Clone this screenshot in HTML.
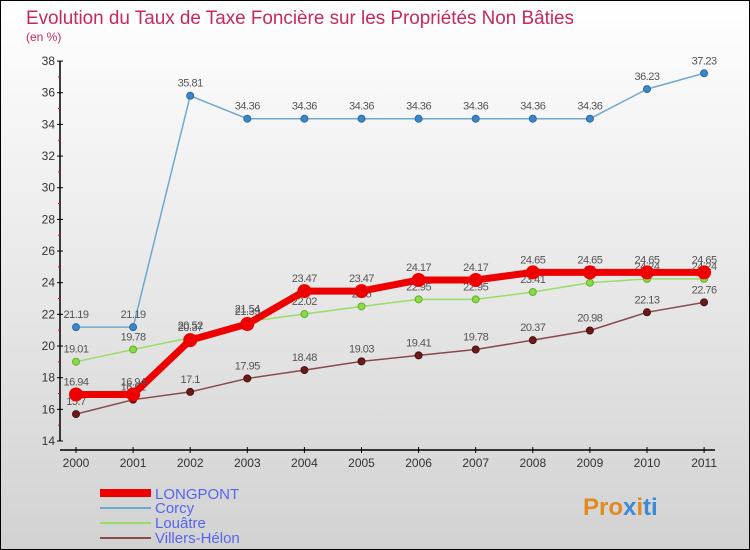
<!DOCTYPE html>
<html><head><meta charset="utf-8"><style>
body{margin:0}
#c{width:750px;height:550px;position:relative;overflow:hidden}
svg text{font-family:"Liberation Sans",sans-serif}
</style></head><body>
<div id="c">
<svg id="s" width="750" height="550" xmlns="http://www.w3.org/2000/svg">
<defs><linearGradient id="bg" x1="0" y1="0" x2="0" y2="1"><stop offset="0" stop-color="#ffffff"/><stop offset="1" stop-color="#d2d2d2"/></linearGradient></defs>
<rect x="0.5" y="0.5" width="749" height="549" fill="url(#bg)" stroke="#000"/>
<text x="26" y="24" font-size="19" fill="#c8285a" textLength="548" lengthAdjust="spacingAndGlyphs">Evolution du Taux de Taxe Foncière sur les Propriétés Non Bâties</text>
<text x="26" y="41" font-size="12" fill="#c8285a">(en %)</text>
<g id="axes"></g><g id="series"></g>
<g>
<rect x="100" y="489" width="51" height="8" fill="#e00"/>
<text x="155" y="499" font-size="15" fill="#5566ee">LONGPONT</text>
<line x1="100" y1="508" x2="151" y2="508" stroke="#6fa8d0" stroke-width="2"/>
<text x="155" y="513" font-size="15" fill="#5566ee">Corcy</text>
<line x1="100" y1="523" x2="151" y2="523" stroke="#99dd66" stroke-width="2"/>
<text x="155" y="528" font-size="15" fill="#5566ee">Louâtre</text>
<line x1="100" y1="538" x2="151" y2="538" stroke="#8a4a4a" stroke-width="2"/>
<text x="155" y="543" font-size="15" fill="#5566ee">Villers-Hélon</text>
</g>
<text x="583" y="515" font-size="24" font-weight="bold" fill="#e08a20">Pro<tspan fill="#3a8ad8">x</tspan><tspan fill="#e08a20">i</tspan><tspan fill="#3a8ad8">ti</tspan></text>
</svg></div>
<script>
const years=["2000","2001","2002","2003","2004","2005","2006","2007","2008","2009","2010","2011"];
const yTicks=[14,16,18,20,22,24,26,28,30,32,34,36,38];
const longpont=[16.94,16.94,20.37,21.39,23.47,23.47,24.17,24.17,24.65,24.65,24.65,24.65];
const corcy=[21.19,21.19,35.81,34.36,34.36,34.36,34.36,34.36,34.36,34.36,36.23,37.23];
const louatre=[19.01,19.78,20.52,21.54,22.02,22.5,22.95,22.95,23.41,24.0,24.24,24.24];
const villers=[15.7,16.61,17.1,17.95,18.48,19.03,19.41,19.78,20.37,20.98,22.13,22.76];
const NS="http://www.w3.org/2000/svg";
const X=i=>76+i*57.1, Y=v=>441-(v-14)*15.83;
function mk(t,a,p){const e=document.createElementNS(NS,t);for(const k in a)e.setAttribute(k,a[k]);p.appendChild(e);return e;}
const ax=document.getElementById('axes');
let l=mk('line',{x1:60,y1:Y(38),x2:60,y2:441,stroke:'#000','stroke-width':1.5},ax);


l=mk('line',{x1:60,y1:450,x2:715,y2:450,stroke:'#000','stroke-width':1.5},ax);


yTicks.forEach(v=>{
 mk('line',{x1:57,y1:Y(v),x2:63,y2:Y(v),stroke:'#000'},ax);
 if(v<38)mk('line',{x1:58,y1:Y(v+1),x2:61,y2:Y(v+1),stroke:'#e00'},ax);
 const t=mk('text',{x:55,y:Y(v)+4,'font-size':12,fill:'#333','text-anchor':'end'},ax);t.textContent=v;
 
 
});
years.forEach((y,i)=>{
 mk('line',{x1:X(i),y1:447,x2:X(i),y2:453,stroke:'#000'},ax);
 const t=mk('text',{x:X(i),y:467,'font-size':12,fill:'#333','text-anchor':'middle'},ax);t.textContent=y;
 
 
});
const sg=document.getElementById('series');
function series(d,name,col,w,r,dot,stroke){
 const g=mk('g',{},sg);
 
 
 mk('polyline',{points:d.map((v,i)=>X(i)+','+Y(v)).join(' '),fill:'none',stroke:col,'stroke-width':w},g);
 d.forEach((v,i)=>{
  const c=mk('circle',{cx:X(i),cy:Y(v),r:r,fill:dot,stroke:stroke,'stroke-width':1},g);
  
  
  const t=mk('text',{x:X(i),y:Y(v)-9,'font-size':11,fill:'#555','text-anchor':'middle','letter-spacing':'-0.5'},g);
  t.textContent=String(v);
  
  
 });
}
series(corcy,'corcy','#6fa8d0',1.5,3.5,'#3a86c8','#2a6aa0');
series(villers,'villers-helon','#8a4a4a',1.5,3.5,'#6a1a1a','#4a1010');
series(louatre,'louatre','#99dd66',1.5,3.5,'#88dd44','#66aa33');
series(longpont,'longpont','#ee0000',7,6.5,'#ee0000','#ee0000');
</script>
</body></html>
